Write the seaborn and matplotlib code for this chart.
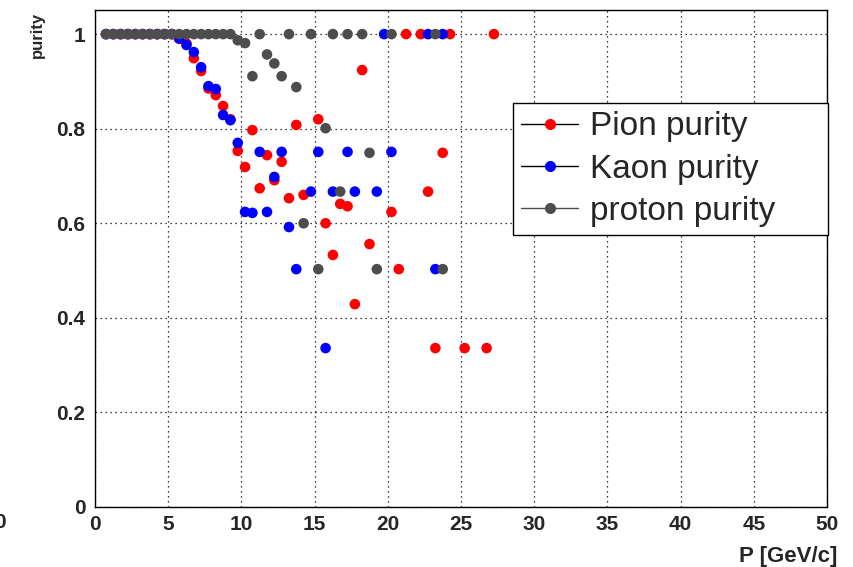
import numpy as np
import pandas as pd
import matplotlib
matplotlib.use("Agg")
import matplotlib.pyplot as plt
from matplotlib.lines import Line2D
from matplotlib.ticker import MultipleLocator
import seaborn as sns

# -------------------------------
# DATE
# -------------------------------
pion_p = [0.75, 1.25, 1.75, 2.25, 2.75, 3.25, 3.75, 4.25, 4.75, 5.25,
          5.75, 6.25, 6.75, 7.25, 7.75, 8.25, 8.75, 9.25, 9.75, 10.25,
          10.75, 11.25, 11.75, 12.25, 12.75, 13.25, 13.75, 14.25,
          15.25, 15.75, 16.25, 16.75, 17.25, 17.75, 18.25, 18.75,
          20.25, 20.75, 21.25, 22.25, 22.75, 23.25, 23.75, 24.25, 25.25, 26.75, 27.25]
pion_purity = [1, 1, 1, 1, 1, 1, 1, 1, 1, 1,
               0.99, 0.98, 0.949, 0.922, 0.885, 0.871, 0.848, 0.82, 0.753, 0.719,
               0.797, 0.674, 0.744, 0.691, 0.73, 0.653, 0.808, 0.66,
               0.82, 0.60, 0.533, 0.641, 0.636, 0.429, 0.924, 0.556,
               0.624, 0.503, 1, 1, 0.667, 0.336, 0.749, 1, 0.336, 0.336, 1]

kaon_p = [0.75, 1.25, 1.75, 2.25, 2.75, 3.25, 3.75, 4.25, 4.75, 5.25,
          5.75, 6.25, 6.75, 7.25, 7.75, 8.25, 8.75, 9.25, 9.75, 10.25,
          10.75, 11.25, 11.75, 12.25, 12.75, 13.25, 13.75, 14.75, 15.25,
          15.75, 16.25, 17.25, 17.75, 19.25, 19.75, 20.25, 22.75, 23.25, 23.75]
kaon_purity = [1, 1, 1, 1, 1, 1, 1, 1, 1, 1,
               0.991, 0.977, 0.962, 0.930, 0.89, 0.884, 0.829, 0.818, 0.770, 0.624,
               0.622, 0.751, 0.624, 0.698, 0.751, 0.592, 0.503, 0.667, 0.751,
               0.336, 0.667, 0.751, 0.667, 0.667, 1, 0.751, 1, 0.503, 1]

proton_p = [0.75, 1.25, 1.75, 2.25, 2.75, 3.25, 3.75, 4.25, 4.75, 5.25,
            5.75, 6.25, 6.75, 7.25, 7.75, 8.25, 8.75, 9.25, 9.75, 10.25,
            10.75, 11.25, 11.75, 12.25, 12.75, 13.25, 13.75, 14.25, 14.75,
            15.25, 15.75, 16.25, 16.75, 17.25, 18.25, 18.75, 19.25, 20.25, 23.25, 23.75]
proton_purity = [1, 1, 1, 1, 1, 1, 1, 1, 1, 1,
                 1, 1, 1, 1, 1, 1, 1, 1, 0.987, 0.981,
                 0.911, 1, 0.957, 0.938, 0.911, 1, 0.888, 0.60, 1,
                 0.503, 0.801, 1, 0.667, 1, 1, 0.749, 0.503, 1, 1, 0.503]

labels = ["Pion purity", "Kaon purity", "proton purity"]
culori = ["#ff0000", "#0000ff", "#4d4d4d"]

df = pd.concat([
    pd.DataFrame({"P": pion_p, "purity": pion_purity, "part": labels[0]}),
    pd.DataFrame({"P": kaon_p, "purity": kaon_purity, "part": labels[1]}),
    pd.DataFrame({"P": proton_p, "purity": proton_purity, "part": labels[2]}),
], ignore_index=True)

# -------------------------------
# STIL
# -------------------------------
sns.set_style("white")
plt.rcParams['font.family'] = ['Liberation Sans', 'DejaVu Sans']

fig = plt.figure(figsize=(8.54, 5.67), dpi=100)
ax = fig.add_axes([95/854, 60/567, 732/854, 497/567])

ax.grid(True, which='major', linestyle=(0, (1, 3)), color='black', linewidth=0.9)
ax.set_axisbelow(True)

sns.scatterplot(data=df, x="P", y="purity", hue="part", palette=culori,
                s=58, linewidth=0, legend=False, ax=ax, zorder=3)

ax.set_xlim(0, 50)
ax.set_ylim(0, 1.051)
ax.xaxis.set_major_locator(MultipleLocator(5))
ax.xaxis.set_minor_locator(MultipleLocator(1))
ax.yaxis.set_major_locator(MultipleLocator(0.2))
ax.yaxis.set_minor_locator(MultipleLocator(0.05))
ax.set_yticks([0, 0.2, 0.4, 0.6, 0.8, 1.0])
ax.set_yticklabels(["0", "0.2", "0.4", "0.6", "0.8", "1"])

ax.tick_params(axis='both', which='both', direction='in', top=False, right=False,
               color='black', width=1)
ax.tick_params(axis='both', which='major', length=9, labelsize=15)
ax.tick_params(axis='both', which='minor', length=5)
ax.tick_params(axis='x', which='major', pad=6)
ax.tick_params(axis='y', which='major', pad=7)
for lbl in ax.get_xticklabels() + ax.get_yticklabels():
    lbl.set_fontweight('bold')

for sp in ax.spines.values():
    sp.set_color('black')
    sp.set_linewidth(1)

ax.set_xlabel("")
ax.set_ylabel("")
fig.text(837/854, 1 - 562/567, "P [GeV/c]", ha='right', va='baseline',
         fontsize=16, fontweight='bold')
fig.text(37/854, 1 - 12/567, "purity", rotation=90, ha='center', va='top',
         fontsize=12, fontweight='bold')
fig.text(0.0, 1 - 522/567, "0", ha='center', va='center', fontsize=15, fontweight='bold')

# -------------------------------
# LEGENDA
# -------------------------------
handles = [
    Line2D([0], [0], color='black', lw=1, marker='o', markersize=8,
           markerfacecolor=culori[0], markeredgewidth=0),
    Line2D([0], [0], color='black', lw=1, marker='o', markersize=8,
           markerfacecolor=culori[1], markeredgewidth=0),
    Line2D([0], [0], color=culori[2], lw=1, marker='o', markersize=8,
           markerfacecolor=culori[2], markeredgewidth=0),
]
leg = ax.legend(handles, labels, loc='upper left',
                bbox_to_anchor=(0.571, 0.547, 0.43, 0.266), mode='expand',
                fontsize=24, frameon=True, fancybox=False, framealpha=1,
                edgecolor='black', borderpad=0.25, labelspacing=0.34,
                handlelength=1.7, handletextpad=0.35, borderaxespad=0)
leg.get_frame().set_linewidth(1)
leg.set_zorder(5)

fig.savefig("out.png", dpi=100)
